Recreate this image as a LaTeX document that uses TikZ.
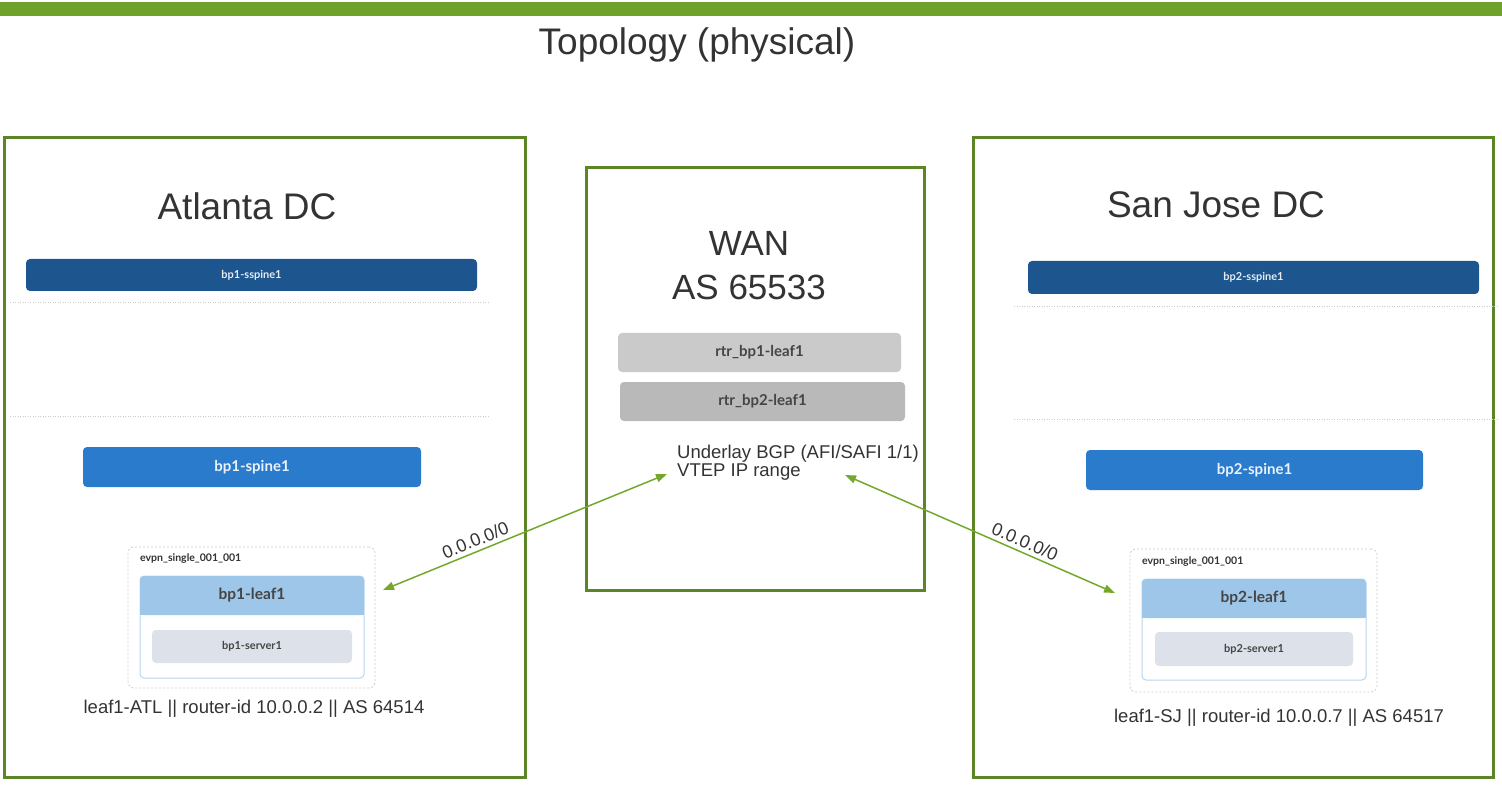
\documentclass[tikz,border=0pt]{standalone}
\usepackage{fontspec}
\setmainfont{Liberation Sans}
\newfontfamily\lato{Lato}
\usetikzlibrary{arrows.meta}
\definecolor{bargreen}{HTML}{6FA22B}
\definecolor{boxgreen}{HTML}{5B8527}
\definecolor{linkgreen}{HTML}{74A82C}
\definecolor{txtgray}{HTML}{333333}
\definecolor{lblgray}{HTML}{454545}
\definecolor{sspineblue}{HTML}{1D558E}
\definecolor{spineblue}{HTML}{2B7BCC}
\definecolor{leafblue}{HTML}{9DC6E8}
\definecolor{leafline}{HTML}{B8D5EF}
\definecolor{srvgray}{HTML}{DDE2EA}
\definecolor{rtrone}{HTML}{CACACA}
\definecolor{rtrtwo}{HTML}{B9B9B9}
\definecolor{sepgray}{HTML}{CCCCCC}
\begin{document}
\begin{tikzpicture}[x=1pt,y=-1pt,
    dc/.style={draw=boxgreen,line width=3pt,inner sep=0pt},
    big/.style={text=txtgray,font=\fontsize{37}{44}\selectfont},
    info/.style={text=txtgray,font=\fontsize{18.5}{21}\selectfont,inner sep=0pt},
    dev/.style={rounded corners=4pt,inner sep=0pt,font=\lato\bfseries},
    grp/.style={draw=sepgray,dash pattern=on 2pt off 2pt,line width=.8pt,rounded corners=6pt,inner sep=0pt},
    sep/.style={draw=sepgray,line width=.8pt,dash pattern=on 1pt off 1.5pt},
    link/.style={draw=linkgreen,line width=1.5pt,{Triangle[length=11pt,width=8pt]}-{Triangle[length=11pt,width=8pt]}},
    lbl/.style={sloped,above=3pt,inner sep=1pt,text=txtgray,font=\fontsize{18}{20}\selectfont}]
  \useasboundingbox (0,0) rectangle (1502,786);
  \fill[bargreen] (0,2) rectangle (1502,16);
  \node[big] (title) at (697,45) {Topology (physical)};

  % the three areas
  \node[dc,minimum width=521pt,minimum height=639pt] (atl) at (264.5,457.5) {};
  \node[dc,minimum width=338pt,minimum height=422pt] (wan) at (755,379) {};
  \node[dc,minimum width=520pt,minimum height=639pt] (sj) at (1233,457.5) {};
  \node[big] (atltitle) at (247,206) {Atlanta DC};
  \node[big] (sjtitle) at (1216,205) {San Jose DC};
  \node[big,font=\fontsize{35}{44}\selectfont,align=center] (wantitle) at (749,266) {WAN\\AS 65533};

  % Atlanta
  \node[dev,fill=sspineblue,text=white!88!sspineblue,font=\lato\bfseries\fontsize{11}{13}\selectfont,
    minimum width=451pt,minimum height=32pt] (sspineA) at (251.5,275) {bp1-sspine1};
  \draw[sep] (10,302) -- (488,302);
  \draw[sep] (10,416) -- (488,416);
  \node[dev,fill=spineblue,text=white!90!spineblue,font=\lato\bfseries\fontsize{15}{18}\selectfont,
    minimum width=338pt,minimum height=40pt] (spineA) at (252,467) {bp1-spine1};
  \node[grp,minimum width=247pt,minimum height=141pt] (grpA) at (251.5,617.5) {};
  \node[anchor=west,inner sep=0pt,text=txtgray,font=\lato\bfseries\fontsize{10.5}{12}\selectfont] (grpAlbl) at (140,559) {evpn\_single\_001\_001};
  \node[dev,draw=leafline,fill=white,line width=1pt,minimum width=224pt,minimum height=102pt] (leafA) at (252,627) {};
  \fill[leafblue] (140,598) rectangle (364,615);
  \node[dev,fill=leafblue,text=lblgray,font=\lato\bfseries\fontsize{15.5}{18}\selectfont,
    minimum width=224pt,minimum height=39pt] (leafAhead) at (252,595.5) {bp1-leaf1};
  \node[dev,fill=srvgray,text=lblgray,font=\lato\bfseries\fontsize{11}{13}\selectfont,
    minimum width=200pt,minimum height=33pt] (srvA) at (252,646.5) {bp1-server1};
  \node[info] (infoA) at (254,709) {leaf1-ATL || router-id 10.0.0.2 || AS 64514};

  % San Jose
  \node[dev,fill=sspineblue,text=white!88!sspineblue,font=\lato\bfseries\fontsize{11}{13}\selectfont,
    minimum width=451pt,minimum height=33pt] (sspineB) at (1253.5,277.5) {bp2-sspine1};
  \draw[sep] (1014,306) -- (1498,306);
  \draw[sep] (1014,419) -- (1498,419);
  \node[dev,fill=spineblue,text=white!90!spineblue,font=\lato\bfseries\fontsize{15}{18}\selectfont,
    minimum width=337pt,minimum height=40pt] (spineB) at (1254.5,470) {bp2-spine1};
  \node[grp,minimum width=247pt,minimum height=143pt] (grpB) at (1253.5,620.5) {};
  \node[anchor=west,inner sep=0pt,text=txtgray,font=\lato\bfseries\fontsize{10.5}{12}\selectfont] (grpBlbl) at (1142,562) {evpn\_single\_001\_001};
  \node[dev,draw=leafline,fill=white,line width=1pt,minimum width=224pt,minimum height=101pt] (leafB) at (1254,629.5) {};
  \fill[leafblue] (1142,601) rectangle (1366,618);
  \node[dev,fill=leafblue,text=lblgray,font=\lato\bfseries\fontsize{15.5}{18}\selectfont,
    minimum width=224pt,minimum height=39pt] (leafBhead) at (1254,598.5) {bp2-leaf1};
  \node[dev,fill=srvgray,text=lblgray,font=\lato\bfseries\fontsize{11}{13}\selectfont,
    minimum width=198pt,minimum height=34pt] (srvB) at (1254,649) {bp2-server1};
  \node[info] (infoB) at (1279,718) {leaf1-SJ || router-id 10.0.0.7 || AS 64517};

  % WAN
  \node[dev,fill=rtrone,text=lblgray,font=\lato\bfseries\fontsize{15}{18}\selectfont,
    minimum width=283pt,minimum height=39pt] (rtrA) at (759.5,352.5) {rtr\_bp1-leaf1};
  \node[dev,fill=rtrtwo,text=lblgray,font=\lato\bfseries\fontsize{15}{18}\selectfont,
    minimum width=285pt,minimum height=39pt] (rtrB) at (762.5,401.5) {rtr\_bp2-leaf1};
  \node[info,anchor=west,align=left,font=\fontsize{18.5}{18}\selectfont] (underlay) at (677,463) {Underlay BGP (AFI/SAFI 1/1)\\VTEP IP range};

  \coordinate (atlend) at (383,590);
  \coordinate (wanleft) at (667,474);
  \coordinate (wanright) at (845,475);
  \coordinate (sjend) at (1115,593);
  \begin{scope}[link]
    \draw (atlend) to node[lbl,pos=.34] {0.0.0.0/0} (wanleft);
    \draw (wanright) to node[lbl,pos=.65] {0.0.0.0/0} (sjend);
  \end{scope}
\end{tikzpicture}
\end{document}
